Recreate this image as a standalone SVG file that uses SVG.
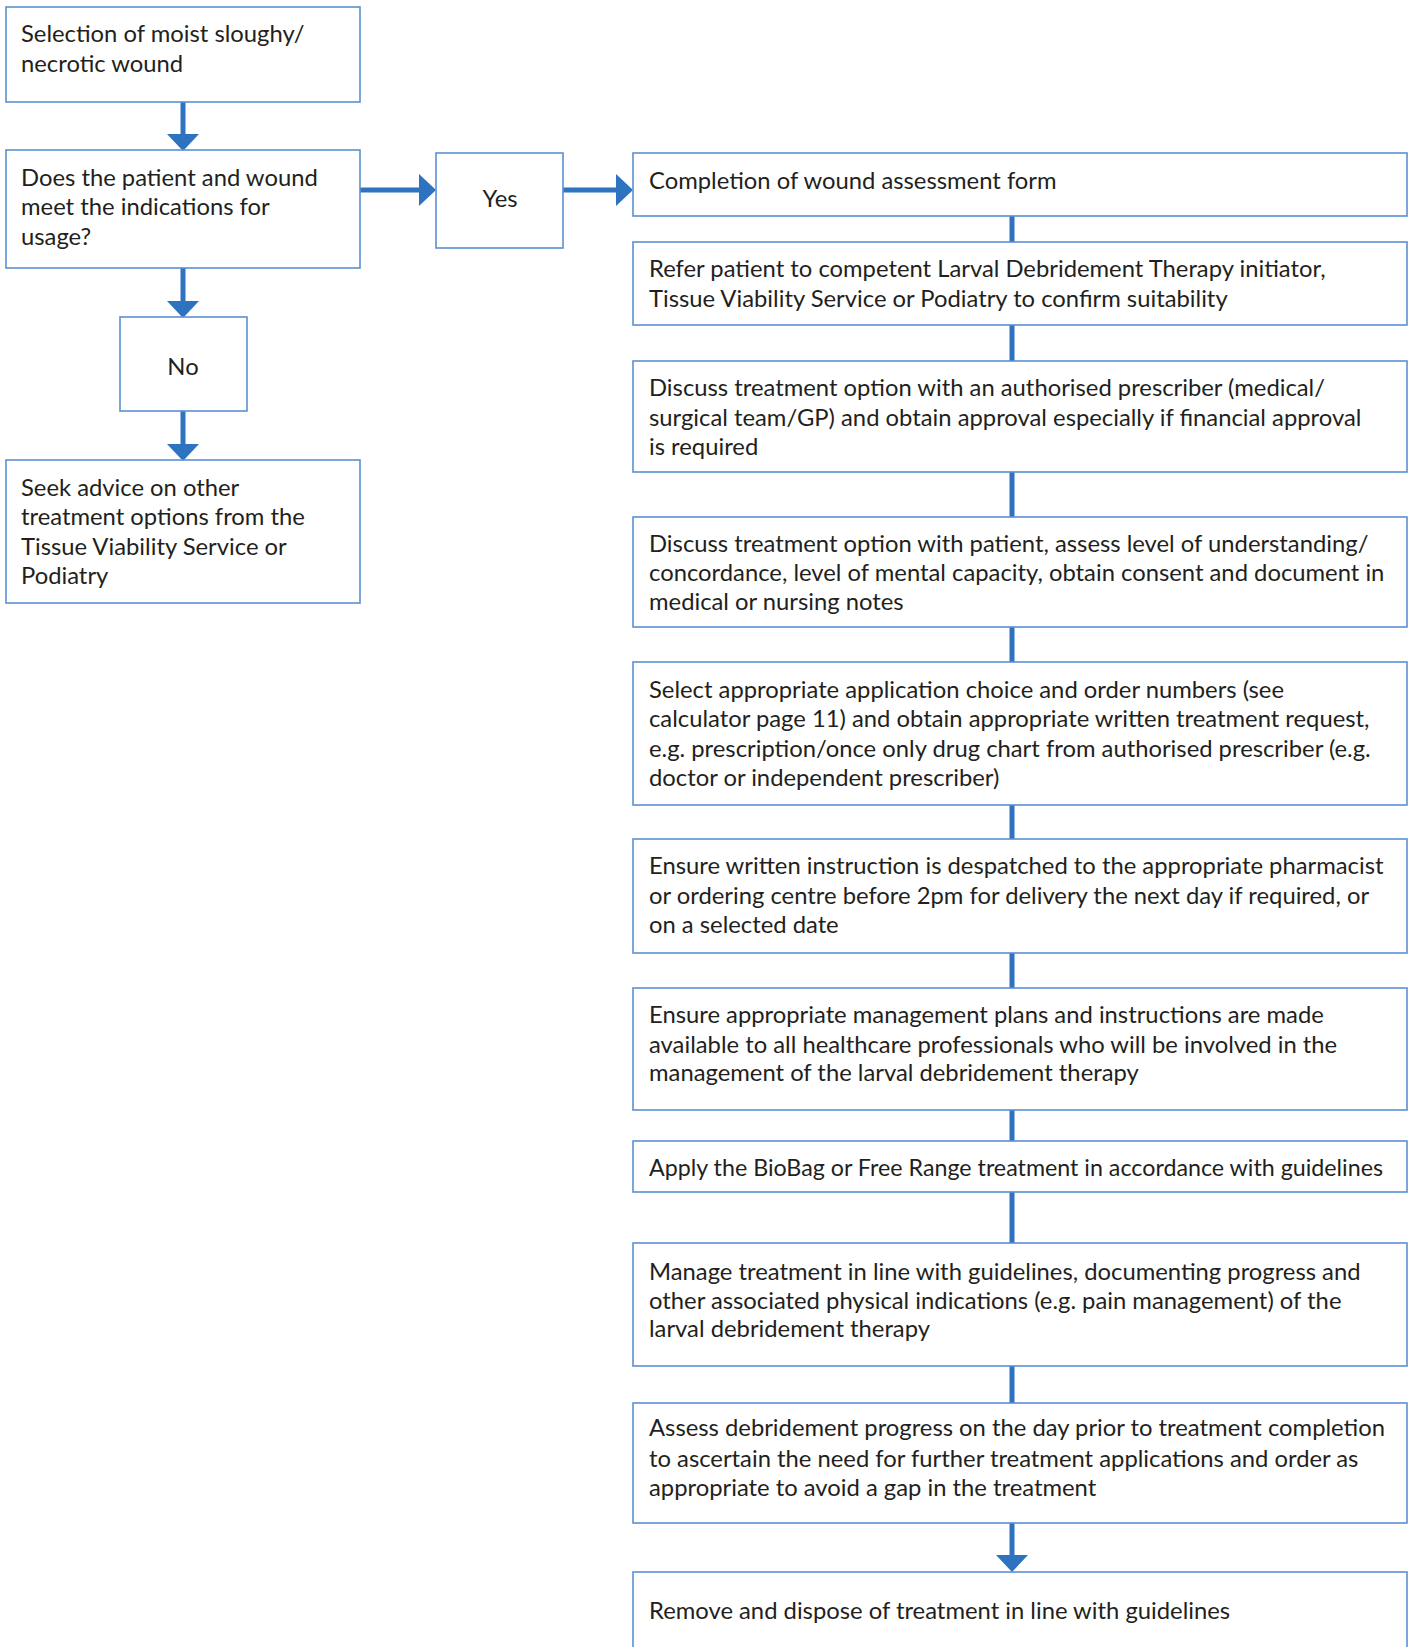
<svg xmlns="http://www.w3.org/2000/svg" width="1411" height="1647" viewBox="0 0 1411 1647">
<style>
.box{fill:#fff;stroke:#5b8fd3;stroke-width:1.6}
.t{font-family:Lato,"Open Sans","Liberation Sans",sans-serif;font-size:23.8px;fill:#231f20}
.c{stroke:#2e73bf;stroke-width:5;fill:none}
.ah{fill:#2e73bf}
</style>
<defs>
<polygon id="down" points="-16,0 16,0 0,17"/>
<polygon id="right" points="0,-16 0,16 17,0"/>
</defs>
<rect width="1411" height="1647" fill="#fff"/>
<g id="connectors">
<line class="c" x1="183" y1="102" x2="183" y2="134"/><use href="#down" class="ah" x="183" y="134"/>
<line class="c" x1="183" y1="268" x2="183" y2="301"/><use href="#down" class="ah" x="183" y="301"/>
<line class="c" x1="183" y1="411" x2="183" y2="444"/><use href="#down" class="ah" x="183" y="444"/>
<line class="c" x1="360" y1="190" x2="420" y2="190"/><use href="#right" class="ah" x="419" y="190"/>
<line class="c" x1="563" y1="190" x2="617" y2="190"/><use href="#right" class="ah" x="616" y="190"/>
<line class="c" x1="1012" y1="216" x2="1012" y2="242"/>
<line class="c" x1="1012" y1="325" x2="1012" y2="361"/>
<line class="c" x1="1012" y1="472" x2="1012" y2="517"/>
<line class="c" x1="1012" y1="627" x2="1012" y2="662"/>
<line class="c" x1="1012" y1="805" x2="1012" y2="839"/>
<line class="c" x1="1012" y1="953" x2="1012" y2="988"/>
<line class="c" x1="1012" y1="1110" x2="1012" y2="1141"/>
<line class="c" x1="1012" y1="1192" x2="1012" y2="1243"/>
<line class="c" x1="1012" y1="1366" x2="1012" y2="1403"/>
<line class="c" x1="1012" y1="1523" x2="1012" y2="1556"/><use href="#down" class="ah" x="1012" y="1555"/>
</g>
<g id="n1"><rect class="box" x="6" y="7" width="354" height="95"/>
<text class="t" x="21"><tspan x="21" y="42">Selection of moist sloughy/</tspan><tspan x="21" y="72">necrotic wound</tspan></text></g>
<g id="n2"><rect class="box" x="6" y="150" width="354" height="118"/>
<text class="t"><tspan x="21" y="186">Does the patient and wound</tspan><tspan x="21" y="215">meet the indications for</tspan><tspan x="21" y="245">usage?</tspan></text></g>
<g id="yes"><rect class="box" x="436" y="153" width="127" height="95"/>
<text class="t" x="500" y="207" text-anchor="middle">Yes</text></g>
<g id="no"><rect class="box" x="120" y="317" width="127" height="94"/>
<text class="t" x="183" y="375" text-anchor="middle">No</text></g>
<g id="seek"><rect class="box" x="6" y="460" width="354" height="143"/>
<text class="t"><tspan x="21" y="496">Seek advice on other</tspan><tspan x="21" y="525">treatment options from the</tspan><tspan x="21" y="555">Tissue Viability Service or</tspan><tspan x="21" y="584">Podiatry</tspan></text></g>
<g id="r1"><rect class="box" x="633" y="153" width="774" height="63"/>
<text class="t" x="649" y="189">Completion of wound assessment form</text></g>
<g id="r2"><rect class="box" x="633" y="242" width="774" height="83"/>
<text class="t"><tspan x="649" y="277">Refer patient to competent Larval Debridement Therapy initiator,</tspan><tspan x="649" y="307">Tissue Viability Service or Podiatry to confirm suitability</tspan></text></g>
<g id="r3"><rect class="box" x="633" y="361" width="774" height="111"/>
<text class="t"><tspan x="649" y="396">Discuss treatment option with an authorised prescriber (medical/</tspan><tspan x="649" y="425.5">surgical team/GP) and obtain approval especially if financial approval</tspan><tspan x="649" y="455">is required</tspan></text></g>
<g id="r4"><rect class="box" x="633" y="517" width="774" height="110"/>
<text class="t"><tspan x="649" y="551.5">Discuss treatment option with patient, assess level of understanding/</tspan><tspan x="649" y="581">concordance, level of mental capacity, obtain consent and document in</tspan><tspan x="649" y="610">medical or nursing notes</tspan></text></g>
<g id="r5"><rect class="box" x="633" y="662" width="774" height="143"/>
<text class="t"><tspan x="649" y="697.5">Select appropriate application choice and order numbers (see</tspan><tspan x="649" y="727">calculator page 11) and obtain appropriate written treatment request,</tspan><tspan x="649" y="756.5">e.g. prescription/once only drug chart from authorised prescriber (e.g.</tspan><tspan x="649" y="786">doctor or independent prescriber)</tspan></text></g>
<g id="r6"><rect class="box" x="633" y="839" width="774" height="114"/>
<text class="t"><tspan x="649" y="874">Ensure written instruction is despatched to the appropriate pharmacist</tspan><tspan x="649" y="903.5">or ordering centre before 2pm for delivery the next day if required, or</tspan><tspan x="649" y="933">on a selected date</tspan></text></g>
<g id="r7"><rect class="box" x="633" y="988" width="774" height="122"/>
<text class="t"><tspan x="649" y="1023">Ensure appropriate management plans and instructions are made</tspan><tspan x="649" y="1052.5">available to all healthcare professionals who will be involved in the</tspan><tspan x="649" y="1081">management of the larval debridement therapy</tspan></text></g>
<g id="r8"><rect class="box" x="633" y="1141" width="774" height="51"/>
<text class="t" x="649" y="1175.5" textLength="734" lengthAdjust="spacingAndGlyphs">Apply the BioBag or Free Range treatment in accordance with guidelines</text></g>
<g id="r9"><rect class="box" x="633" y="1243" width="774" height="123"/>
<text class="t"><tspan x="649" y="1279.5">Manage treatment in line with guidelines, documenting progress and</tspan><tspan x="649" y="1309">other associated physical indications (e.g. pain management) of the</tspan><tspan x="649" y="1337">larval debridement therapy</tspan></text></g>
<g id="r10"><rect class="box" x="633" y="1403" width="774" height="120"/>
<text class="t"><tspan x="649" y="1436">Assess debridement progress on the day prior to treatment completion</tspan><tspan x="649" y="1466.5">to ascertain the need for further treatment applications and order as</tspan><tspan x="649" y="1496">appropriate to avoid a gap in the treatment</tspan></text></g>
<g id="r11"><rect class="box" x="633" y="1572" width="774" height="100"/>
<text class="t" x="649" y="1619">Remove and dispose of treatment in line with guidelines</text></g>
</svg>
